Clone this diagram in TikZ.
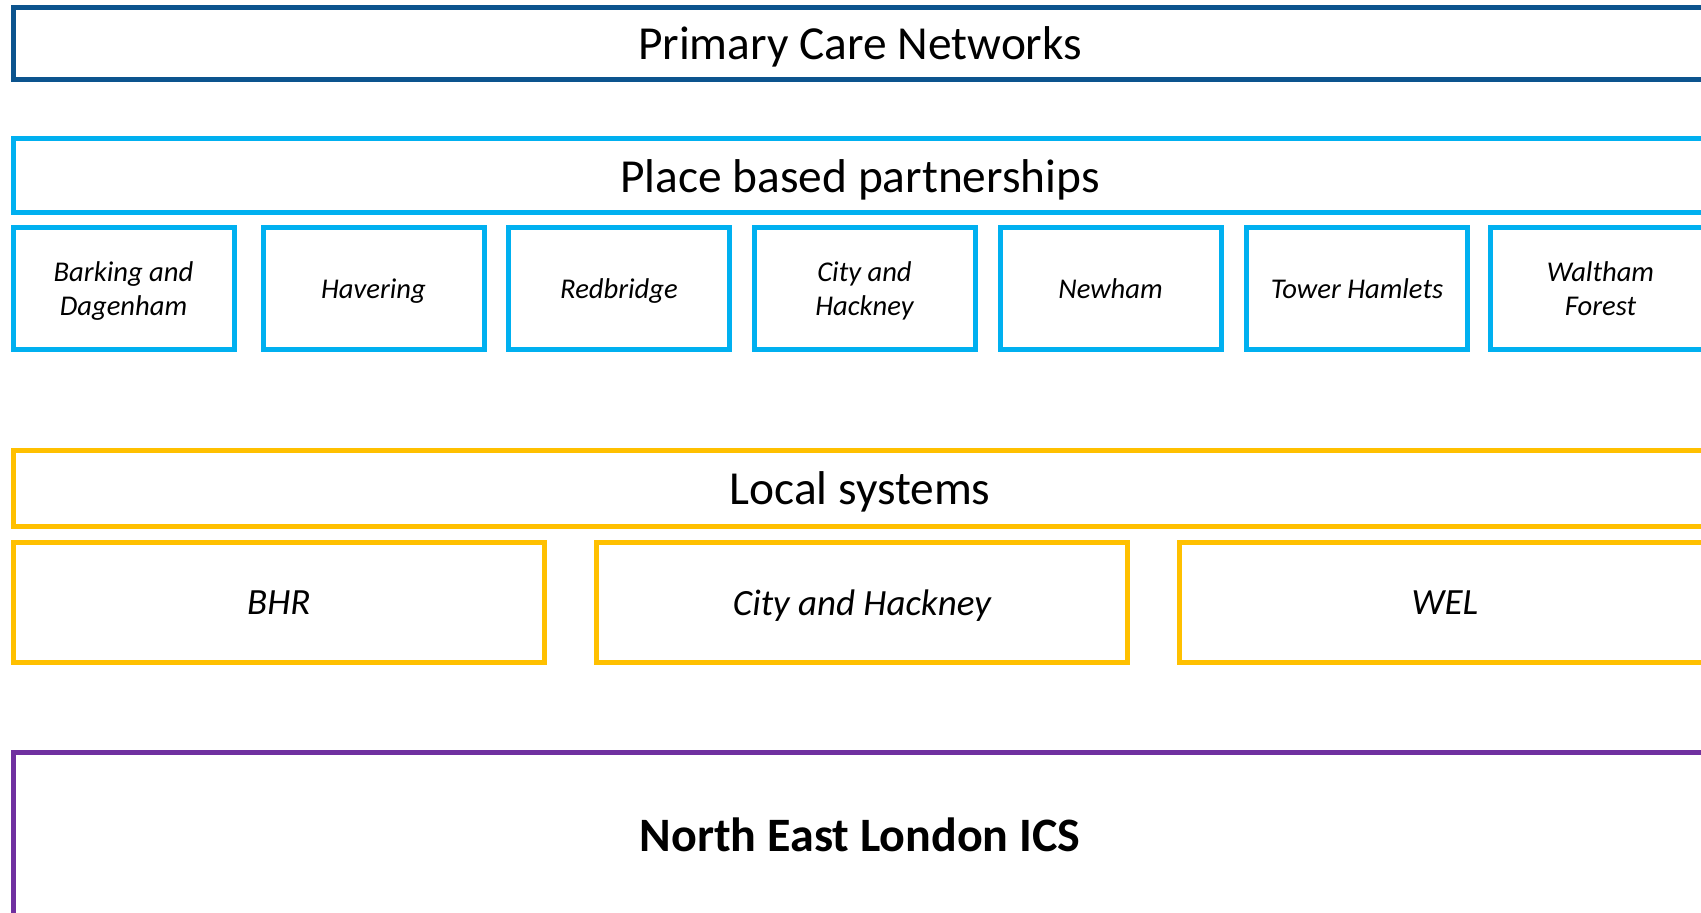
\documentclass[tikz,border=0pt]{standalone}
\usepackage{fontspec}
\setmainfont{Carlito}
\definecolor{pcnblue}{RGB}{12,84,142}
\definecolor{placeblue}{RGB}{0,176,240}
\definecolor{localgold}{RGB}{255,192,0}
\definecolor{icspurple}{RGB}{112,48,160}
\tikzset{
  layerbox/.style={draw, line width=2.5pt, inner sep=0pt, align=center, text=black, text depth=0pt},
  bigtext/.style={font=\fontsize{23.7}{28}\selectfont},
  boroughbox/.style={layerbox, draw=placeblue, minimum width=110.5pt, minimum height=60.75pt,
     font=\fontsize{14.3}{17.4}\selectfont\itshape},
  localbox/.style={layerbox, draw=localgold, minimum width=265.8pt, minimum height=60.2pt,
     font=\fontsize{18.5}{22}\selectfont\itshape}
}
\begin{document}
\begin{tikzpicture}[x=0.5pt,y=-0.5pt]
\useasboundingbox (0,0) rectangle (1701,913);
\clip (0,0) rectangle (1701,913);
\fill[white] (0,0) rectangle (1701,913);
% Primary Care Networks
\node[layerbox, bigtext, draw=pcnblue, minimum width=847pt, minimum height=35.8pt] (pcn) at (860,43.4) {Primary Care Networks};
% Place based partnerships
\node[layerbox, bigtext, draw=placeblue, minimum width=847pt, minimum height=36.85pt] (place) at (860,175.75) {Place based partnerships};
\node[boroughbox] (bd) at (123.5,288.5) {Barking and\\Dagenham};
\node[boroughbox] (hav) at (373.5,288.5) {Havering};
\node[boroughbox] (red) at (619,288.5) {Redbridge};
\node[boroughbox] (ch) at (864.5,288.5) {City and\\Hackney};
\node[boroughbox] (new) at (1110.5,288.5) {Newham};
\node[boroughbox] (th) at (1357,288.5) {Tower Hamlets};
\node[boroughbox] (wf) at (1600.5,288.5) {Waltham\\Forest};
% Local systems
\node[layerbox, bigtext, draw=localgold, minimum width=847pt, minimum height=37.95pt] (local) at (860,488.2) {Local systems};
\node[localbox] (bhr) at (278.8,602.6) {BHR};
\node[localbox] (chl) at (861.9,602.6) {City and Hackney};
\node[localbox] (wel) at (1445,602.6) {WEL};
% ICS
\node[layerbox, draw=icspurple, minimum width=847pt, minimum height=83pt, font=\fontsize{24}{28}\selectfont\bfseries] (ics) at (860,835) {North East London ICS};
\end{tikzpicture}
\end{document}
